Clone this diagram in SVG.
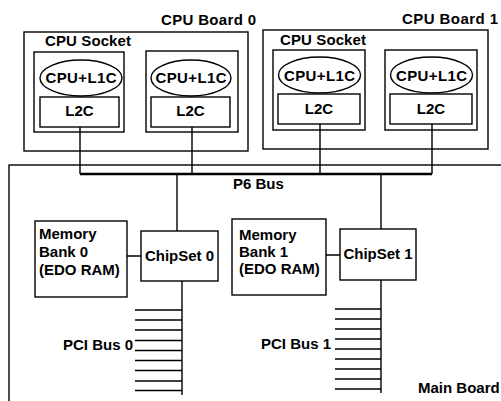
<svg xmlns="http://www.w3.org/2000/svg" width="501" height="401" viewBox="0 0 501 401">
<style>
.box{fill:#fff;stroke:#000;stroke-width:1.4}
.frame{fill:none;stroke:#000;stroke-width:1.4}
.ln{fill:none;stroke:#000;stroke-width:1.4}
.bus{fill:none;stroke:#000;stroke-width:2.4}
text{font-family:"Liberation Sans",Arial,sans-serif;font-size:15px;font-weight:bold;fill:#000}
.m{text-anchor:middle}
.e{text-anchor:end}
</style>
<rect width="501" height="401" fill="#fff"/>
<g id="main-board">
<rect class="frame" x="9" y="165" width="520" height="260"/>
<text x="418" y="393">Main Board</text>
</g>
<g id="cpu-board-0">
<rect class="frame" x="24" y="32" width="224" height="119"/>
<text x="161" y="25" textLength="95">CPU Board 0</text>
<text x="45" y="46" textLength="86">CPU Socket</text>
</g>
<g id="cpu-board-1">
<rect class="frame" x="263" y="30" width="225" height="119"/>
<text x="402" y="24" textLength="96">CPU Board 1</text>
<text x="280" y="45" textLength="86">CPU Socket</text>
</g>
<g id="socket-0a">
<rect class="box" x="34" y="52" width="90" height="80"/>
<ellipse class="box" cx="81" cy="78" rx="41" ry="18"/>
<text class="m" x="81" y="83" textLength="71">CPU+L1C</text>
<rect class="box" x="40" y="97" width="79" height="30"/>
<text class="m" x="79.5" y="116">L2C</text>
</g>
<g id="socket-0b">
<rect class="box" x="146" y="51" width="92" height="81"/>
<ellipse class="box" cx="191" cy="78" rx="40" ry="18"/>
<text class="m" x="191" y="83" textLength="71">CPU+L1C</text>
<rect class="box" x="151" y="97" width="79" height="30"/>
<text class="m" x="190.5" y="116">L2C</text>
</g>
<g id="socket-1a">
<rect class="box" x="273" y="50" width="92" height="80"/>
<ellipse class="box" cx="319.5" cy="75" rx="41" ry="18"/>
<text class="m" x="319.5" y="81" textLength="71">CPU+L1C</text>
<rect class="box" x="278" y="94" width="82" height="30"/>
<text class="m" x="319" y="114">L2C</text>
</g>
<g id="socket-1b">
<rect class="box" x="385" y="50" width="92" height="80"/>
<ellipse class="box" cx="431.5" cy="75" rx="41" ry="18"/>
<text class="m" x="431.5" y="81" textLength="71">CPU+L1C</text>
<rect class="box" x="390" y="94" width="82" height="30"/>
<text class="m" x="431" y="114">L2C</text>
</g>
<g id="connectors">
<path class="ln" d="M80 127V174M192 127V174M320 124V174M432 124V174"/>
<path class="bus" d="M80 174H432"/>
<path class="ln" d="M177 174V231M381 174V229"/>
<path class="ln" d="M127 256H141M326 255H340"/>
<path class="ln" d="M182 281V395M135 310H182M135 320H182M135 330H182M135 340.5H182M135 350.5H182M135 360.5H182M135 370.5H182M135 381H182M135 390.5H182"/>
<path class="ln" d="M381 280V393M335 309H381M335 319H381M335 329H381M335 339H381M335 349H381M335 359H381M335 369H381M335 379H381M335 389H381"/>
</g>
<text x="233" y="189">P6 Bus</text>
<g id="memory-bank-0">
<rect class="box" x="35" y="221" width="92" height="76"/>
<text x="39" y="239">Memory</text>
<text x="39" y="257">Bank 0</text>
<text x="39" y="275">(EDO RAM)</text>
</g>
<g id="chipset-0">
<rect class="box" x="141" y="231" width="77" height="50"/>
<text class="m" x="179.5" y="261">ChipSet 0</text>
</g>
<g id="memory-bank-1">
<rect class="box" x="232" y="219" width="94" height="76"/>
<text x="239" y="240">Memory</text>
<text x="239" y="257">Bank 1</text>
<text x="239" y="274">(EDO RAM)</text>
</g>
<g id="chipset-1">
<rect class="box" x="340" y="229" width="76" height="51"/>
<text class="m" x="378" y="259">ChipSet 1</text>
</g>
<g id="pci-bus-0">
<text class="e" x="133" y="350">PCI Bus 0</text>
</g>
<g id="pci-bus-1">
<text class="e" x="331" y="349">PCI Bus 1</text>
</g>
</svg>
